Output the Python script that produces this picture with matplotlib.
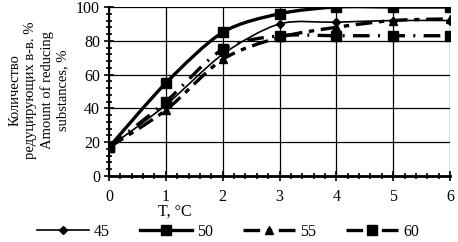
import numpy as np
import matplotlib
matplotlib.use('Agg')
import matplotlib.pyplot as plt
from matplotlib.path import Path
from matplotlib.patches import PathPatch
from matplotlib.lines import Line2D
from matplotlib.ticker import MultipleLocator

plt.rcParams['font.family'] = ['Liberation Serif', 'DejaVu Serif']
plt.rcParams['font.size'] = 11.5

# Data
time = [0, 1, 2, 3, 4, 5, 6]
t45 = [17, 42, 72, 90, 91, 92, 92]
t50 = [17, 55, 85, 96, 100, 100, 100]
t55 = [17, 39, 69, 82, 88, 92, 93]
t60 = [17, 44, 75, 83, 83, 83, 83]
labels = ['45', '50', '55', '60']


def smooth_path(x, y):
    # Excel-like smoothed line: cubic bezier through every point
    p = np.column_stack([x, y]).astype(float)
    n = len(p)
    verts = [p[0]]
    codes = [Path.MOVETO]
    for i in range(n - 1):
        p0 = p[i - 1] if i > 0 else p[i]
        p3 = p[i + 2] if i + 2 < n else p[i + 1]
        c1 = p[i] + (p[i + 1] - p0) / 7
        c2 = p[i + 1] - (p3 - p[i]) / 7
        verts += [c1, c2, p[i + 1]]
        codes += [Path.CURVE4] * 3
    return Path(verts, codes)


fig = plt.figure(figsize=(4.58, 2.42), dpi=100)
ax = fig.add_axes([109 / 458, 1 - 176 / 242, 341 / 458, 169 / 242])

styles = [
    dict(lw=1.2, ls='-', marker='D', ms=4),
    dict(lw=2.4, ls='-', marker='s', ms=7),
    dict(lw=2.4, ls=(0, (5, 2, 1.6, 2)), marker='^', ms=6),
    dict(lw=2.4, ls=(0, (5, 2.5, 0.6, 2.5)), marker='s', ms=7),
]

for yv, st in zip([t45, t50, t55, t60], styles):
    patch = PathPatch(smooth_path(time, yv), fill=False, edgecolor='black',
                      lw=st['lw'], ls=st['ls'], zorder=3)
    ax.add_patch(patch)
    ax.plot(time, yv, ls='none', marker=st['marker'], ms=st['ms'],
            color='black', zorder=4)

ax.set_xlim(0, 6)
ax.set_ylim(0, 100)
ax.xaxis.set_major_locator(MultipleLocator(1))
ax.xaxis.set_minor_locator(MultipleLocator(0.2))
ax.yaxis.set_major_locator(MultipleLocator(20))
ax.yaxis.set_minor_locator(MultipleLocator(4))
ax.grid(True, which='major', color='black', lw=0.9)
ax.tick_params(which='major', direction='inout', length=7, width=1.2, pad=3)
ax.tick_params(axis='x', which='major', pad=6)
ax.tick_params(which='minor', direction='inout', length=5, width=1.2)
for s in ['top', 'right']:
    ax.spines[s].set_visible(False)
ax.spines['left'].set_linewidth(1.5)
ax.spines['bottom'].set_linewidth(2)

ax.set_xlabel('T, °C')
ax.xaxis.set_label_coords((175 - 109) / 341, -0.165)

fig.text(39 / 458, 1 - 90 / 242,
         'Количество\nредуцирующих в-в. %\nAmount of reducing\nsubstances, %',
         rotation=90, ha='center', va='center', multialignment='center',
         fontsize=10.5, linespacing=1.25)

handles = [Line2D([], [], color='black', lw=st['lw'], ls=st['ls'],
                  marker=st['marker'], ms=st['ms']) for st in styles]
fig.legend(handles, labels, loc='center', bbox_to_anchor=(0.498, 1 - 232 / 242),
           ncol=4, frameon=False, handlelength=3.25, numpoints=1,
           columnspacing=1.9, handletextpad=0.3, borderaxespad=0)

fig.savefig('out.png', dpi=100)
